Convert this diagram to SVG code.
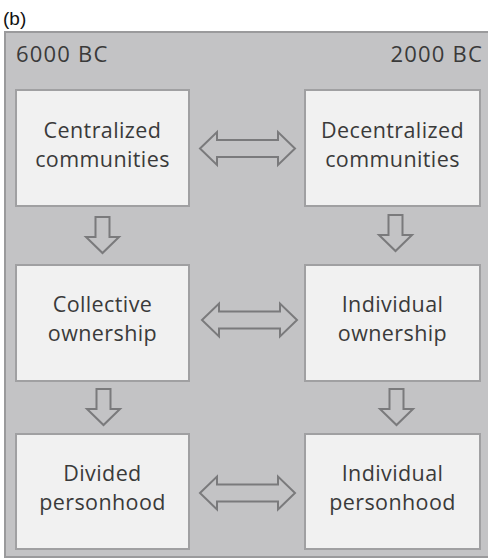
<svg xmlns="http://www.w3.org/2000/svg" width="488" height="560" viewBox="0 0 488 560">
<style>
.panel{fill:#c3c3c5;stroke:#9a9a9c;stroke-width:2}
.box{fill:#f1f1f1;stroke:#a0a0a2;stroke-width:2}
.t{font-family:"Open Sans","Liberation Sans",sans-serif;font-size:21.5px;letter-spacing:0.4px;fill:#3a3a3a;text-anchor:middle}
.yr{font-family:"Open Sans","Liberation Sans",sans-serif;font-size:22px;letter-spacing:1.2px;fill:#3a3a3a}
.ar{fill:none;stroke:#7a7a7c;stroke-width:2;stroke-linejoin:miter}
.lbl{font-family:"Liberation Sans",Arial,sans-serif;font-size:19px;fill:#111}
</style>
<defs>
<path id="down" d="M-7,0 H7 V20 H16.5 L0,36 L-16.5,20 H-7 Z"/>
<path id="lr" d="M0,0 L17,-16.5 V-8.5 H78 V-16.5 L95,0 L78,16.5 V8.5 H17 V16.5 Z"/>
</defs>
<text class="lbl" x="3" y="25">(b)</text>
<rect class="panel" x="5" y="32" width="490" height="525"/>
<text class="yr" x="16" y="62">6000 BC</text>
<text class="yr" x="483" y="62" text-anchor="end">2000 BC</text>
<g id="connectors">
<use href="#down" class="ar" x="102.5" y="217"/>
<use href="#down" class="ar" x="395.5" y="215"/>
<use href="#down" class="ar" x="103.5" y="389"/>
<use href="#down" class="ar" x="396.5" y="389"/>
<use href="#lr" class="ar" x="200" y="148.5"/>
<use href="#lr" class="ar" x="202" y="320"/>
<use href="#lr" class="ar" x="200" y="493"/>
</g>
<g id="n1"><rect class="box" x="16" y="90" width="173" height="116"/><text class="t" x="102.5" y="138">Centralized</text><text class="t" x="102.5" y="167">communities</text></g>
<g id="n2"><rect class="box" x="305" y="90" width="175" height="116"/><text class="t" x="392.5" y="138">Decentralized</text><text class="t" x="392.5" y="167">communities</text></g>
<g id="n3"><rect class="box" x="16" y="265" width="173" height="116"/><text class="t" x="102.5" y="312">Collective</text><text class="t" x="102.5" y="341">ownership</text></g>
<g id="n4"><rect class="box" x="305" y="265" width="175" height="116"/><text class="t" x="392.5" y="312">Individual</text><text class="t" x="392.5" y="341">ownership</text></g>
<g id="n5"><rect class="box" x="16" y="434" width="173" height="115"/><text class="t" x="102.5" y="481">Divided</text><text class="t" x="102.5" y="510">personhood</text></g>
<g id="n6"><rect class="box" x="305" y="434" width="175" height="115"/><text class="t" x="392.5" y="481">Individual</text><text class="t" x="392.5" y="510">personhood</text></g>
</svg>
